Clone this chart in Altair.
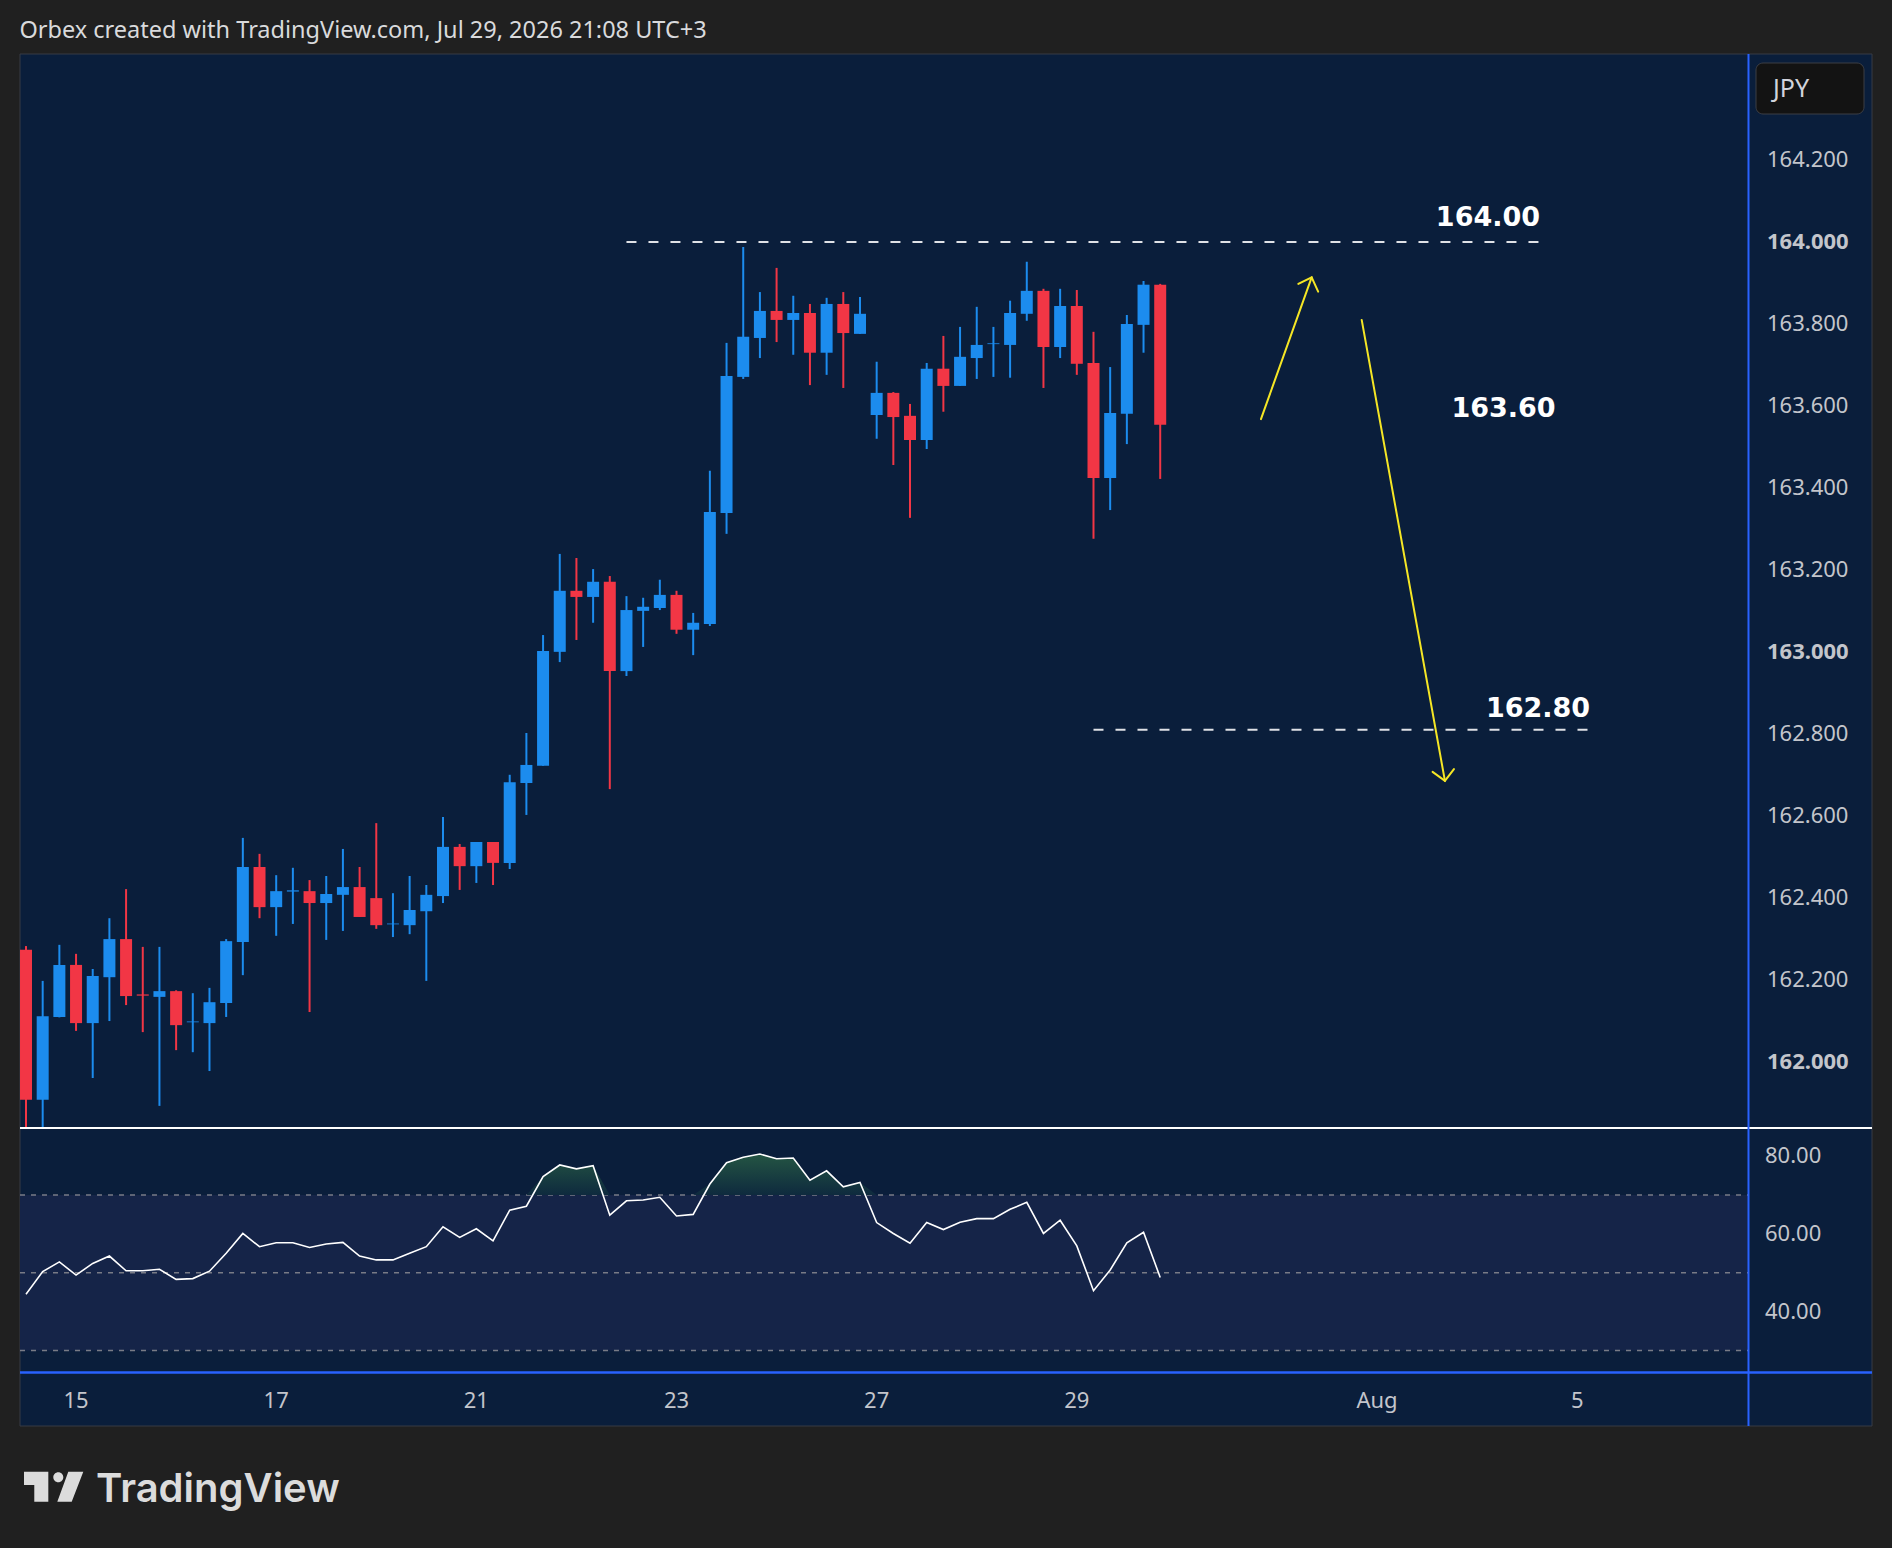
import altair as alt
import pandas as pd

# ---------------- data ----------------
candle_index = list(range(69))
opens = [162.273, 161.907, 162.109, 162.236, 162.094, 162.206, 162.299, 162.164, 162.158, 162.172,
         162.096, 162.094, 162.143, 162.292, 162.475, 162.377, 162.415, 162.416, 162.387, 162.407,
         162.426, 162.399, 162.335, 162.333, 162.367, 162.404, 162.524, 162.477, 162.536, 162.485,
         162.680, 162.722, 163.000, 163.149, 163.134, 163.171, 162.953, 163.100, 163.107, 163.139,
         163.054, 163.068, 163.339, 163.671, 163.766, 163.832, 163.810, 163.827, 163.730, 163.849,
         163.776, 163.578, 163.632, 163.576, 163.517, 163.691, 163.649, 163.717, 163.751, 163.749,
         163.825, 163.881, 163.744, 163.844, 163.705, 163.424, 163.581, 163.798, 163.896]
highs = [162.282, 162.197, 162.285, 162.263, 162.226, 162.350, 162.421, 162.280, 162.280, 162.174,
         162.167, 162.180, 162.299, 162.546, 162.507, 162.455, 162.473, 162.443, 162.453, 162.519,
         162.475, 162.582, 162.411, 162.453, 162.431, 162.597, 162.531, 162.536, 162.536, 162.700,
         162.802, 163.041, 163.239, 163.229, 163.202, 163.185, 163.136, 163.132, 163.176, 163.149,
         163.095, 163.442, 163.754, 163.988, 163.878, 163.937, 163.869, 163.849, 163.864, 163.878,
         163.866, 163.708, 163.634, 163.605, 163.705, 163.771, 163.793, 163.842, 163.793, 163.857,
         163.952, 163.886, 163.886, 163.883, 163.781, 163.695, 163.822, 163.905, 163.898]
lows = [161.840, 161.840, 162.108, 162.075, 161.960, 162.099, 162.138, 162.072, 161.892, 162.028,
        162.023, 161.977, 162.109, 162.211, 162.350, 162.307, 162.336, 162.121, 162.297, 162.319,
        162.353, 162.324, 162.304, 162.311, 162.197, 162.387, 162.419, 162.436, 162.431, 162.470,
        162.602, 162.722, 162.975, 163.029, 163.071, 162.665, 162.941, 163.012, 163.102, 163.044,
        162.992, 163.063, 163.288, 163.666, 163.717, 163.756, 163.725, 163.651, 163.676, 163.644,
        163.776, 163.520, 163.456, 163.327, 163.495, 163.586, 163.649, 163.666, 163.671, 163.669,
        163.808, 163.644, 163.717, 163.676, 163.276, 163.346, 163.507, 163.730, 163.422]
closes = [161.907, 162.111, 162.236, 162.094, 162.209, 162.299, 162.160, 162.161, 162.172, 162.089,
          162.098, 162.145, 162.294, 162.475, 162.377, 162.416, 162.418, 162.387, 162.409, 162.426,
          162.353, 162.333, 162.337, 162.370, 162.407, 162.524, 162.477, 162.536, 162.485, 162.682,
          162.724, 163.002, 163.149, 163.134, 163.171, 162.953, 163.102, 163.110, 163.139, 163.054,
          163.071, 163.341, 163.673, 163.769, 163.832, 163.810, 163.827, 163.730, 163.849, 163.778,
          163.825, 163.632, 163.573, 163.517, 163.691, 163.649, 163.720, 163.749, 163.753, 163.827,
          163.881, 163.744, 163.844, 163.703, 163.424, 163.583, 163.800, 163.896, 163.554]
rsi_values = [44.5, 50.3, 52.8, 49.4, 52.4, 54.3, 50.5, 50.5, 50.9, 48.3,
              48.5, 50.4, 55.0, 60.1, 56.7, 57.7, 57.7, 56.5, 57.4, 57.8,
              54.3, 53.3, 53.3, 55.0, 56.7, 61.8, 59.1, 61.3, 58.2, 66.1,
              67.1, 74.7, 77.7, 76.7, 77.5, 64.8, 68.5, 68.7, 69.4, 64.6,
              65.0, 72.8, 78.3, 79.7, 80.5, 79.3, 79.5, 73.8, 76.2, 72.1,
              73.2, 62.9, 60.1, 57.6, 62.9, 61.1, 63.0, 63.9, 63.9, 66.3,
              68.1, 60.1, 63.5, 56.9, 45.4, 50.7, 57.7, 60.4, 48.8]

price_ticks = [162.0, 162.2, 162.4, 162.6, 162.8, 163.0, 163.2, 163.4, 163.6, 163.8, 164.0, 164.2]
rsi_ticks = [40, 60, 80]
rsi_levels = [30, 50, 70]
rsi_band = [30, 70]
rsi_overbought = 70
date_tick_pos = [3, 15, 27, 39, 51, 63, 81, 93]
date_tick_labels = ["15", "17", "21", "23", "27", "29", "Aug", "5"]

level_values = [164.00, 162.81]
level_start = [36.0, 64.0]
level_end = [90.95, 93.95]

note_texts = ["164.00", "163.60", "162.80"]
note_x = [87.65, 88.58, 90.65]
note_y = [164.058, 163.592, 162.861]

arrow_seg = ["up_shaft", "up_shaft", "up_head", "up_head", "up_head",
             "down_shaft", "down_shaft", "down_head", "down_head", "down_head"]
arrow_ord = [0, 1, 0, 1, 2, 0, 1, 0, 1, 2]
arrow_x = [74.04, 77.08, 76.28, 77.08, 77.47, 80.08, 85.07, 84.33, 85.07, 85.61]
arrow_y = [163.568, 163.914, 163.898, 163.914, 163.879, 163.810, 162.685, 162.707, 162.685, 162.714]

header_text = "Orbex created with TradingView.com, Jul 29, 2026 21:08 UTC+3"
currency_text = "JPY"
brand_text = "TradingView"

# ---------------- styling ----------------
PAGE_BG = "#202020"
NAVY = "#0a1e3b"
BLUE = "#1c8cee"
RED = "#f23645"
AXIS_TXT = "#c3c5cb"
FONT = "Noto Sans"

W, H = 1892, 1548
X_SCALE = alt.Scale(domain=[-0.36, 103.3], range=[20, 1749], nice=False, zero=False, padding=0)
P_SCALE = alt.Scale(domain=[161.838, 164.459], range=[1128, 54], nice=False, zero=False, padding=0)
R_SCALE = alt.Scale(domain=[24.5, 87.2], range=[1372, 1128], nice=False, zero=False, padding=0)

one = pd.DataFrame({"k": [0]})

candles = pd.DataFrame({"i": candle_index, "open": opens, "high": highs, "low": lows, "close": closes})
rsi_df = pd.DataFrame({"i": candle_index, "rsi": rsi_values})
levels_df = pd.DataFrame({"level": level_values, "x0": level_start, "x1": level_end})
notes_df = pd.DataFrame({"label": note_texts, "x": note_x, "y": note_y})
arrows_df = pd.DataFrame({"seg": arrow_seg, "ord": arrow_ord, "x": arrow_x, "y": arrow_y})
rsi_lv_df = pd.DataFrame({"lvl": rsi_levels})
band_df = pd.DataFrame({"lo": [rsi_band[0]], "hi": [rsi_band[1]]})
pticks_df = pd.DataFrame({"v": price_ticks})
rticks_df = pd.DataFrame({"v": rsi_ticks})
dticks_df = pd.DataFrame({"pos": date_tick_pos, "label": date_tick_labels})

color_enc = alt.Color("dir:N", scale=alt.Scale(domain=["up", "down"], range=[BLUE, RED]), legend=None)

# ---------------- background frame ----------------
frame = alt.Chart(one).mark_rect(fill=NAVY, stroke="#363a45", strokeWidth=1).encode(
    x=alt.value(20), x2=alt.value(1872), y=alt.value(54), y2=alt.value(1426))

# ---------------- RSI panel ----------------
band = alt.Chart(band_df).mark_rect(color="#152448").encode(
    x=alt.value(20), x2=alt.value(1749),
    y=alt.Y("lo:Q", scale=R_SCALE, axis=None), y2="hi:Q")
rsi_rules = alt.Chart(rsi_lv_df).mark_rule(color="#787b86", strokeWidth=1.5, strokeDash=[5, 6]).encode(
    x=alt.value(20), x2=alt.value(1749), y=alt.Y("lvl:Q", scale=R_SCALE, axis=None))
ob_fill = alt.Chart(rsi_df).transform_calculate(
    ob="max(datum.rsi, %d)" % rsi_overbought, base="%d" % rsi_overbought
).mark_area(
    color=alt.Gradient(gradient="linear",
                       stops=[alt.GradientStop(color="#245543", offset=0),
                              alt.GradientStop(color="#0e2a3e", offset=1)],
                       x1=0, x2=0, y1=0, y2=1)
).encode(x=alt.X("i:Q", scale=X_SCALE, axis=None),
         y=alt.Y("ob:Q", scale=R_SCALE, axis=None), y2="base:Q")
rsi_line = alt.Chart(rsi_df).mark_line(color="#ffffff", strokeWidth=1.6).encode(
    x=alt.X("i:Q", scale=X_SCALE, axis=None),
    y=alt.Y("rsi:Q", scale=R_SCALE, axis=None))
rsi_labels = alt.Chart(rticks_df).transform_calculate(lbl="format(datum.v, '.2f')").mark_text(
    font=FONT, fontSize=22, color=AXIS_TXT, align="left", baseline="middle").encode(
    x=alt.value(1765), y=alt.Y("v:Q", scale=R_SCALE, axis=None), text="lbl:N")
rsi_layer = alt.layer(band, rsi_rules, ob_fill, rsi_line, rsi_labels)

# ---------------- price panel ----------------
base_c = alt.Chart(candles).transform_calculate(
    dir="datum.close >= datum.open ? 'up' : 'down'")
wicks = base_c.mark_rule(strokeWidth=2).encode(
    x=alt.X("i:Q", scale=X_SCALE, axis=None),
    y=alt.Y("low:Q", scale=P_SCALE, axis=None), y2="high:Q", color=color_enc)
bodies = base_c.mark_bar(width=12, orient="vertical").encode(
    x=alt.X("i:Q", scale=X_SCALE, axis=None),
    y=alt.Y("open:Q", scale=P_SCALE, axis=None), y2="close:Q", color=color_enc)
lvl_lines = alt.Chart(levels_df).mark_rule(color="#dfe1e6", strokeWidth=2, strokeDash=[10, 12]).encode(
    x=alt.X("x0:Q", scale=X_SCALE, axis=None), x2="x1:Q",
    y=alt.Y("level:Q", scale=P_SCALE, axis=None))
arrows = alt.Chart(arrows_df).mark_line(color="#f5e625", strokeWidth=2, strokeCap="round").encode(
    x=alt.X("x:Q", scale=X_SCALE, axis=None),
    y=alt.Y("y:Q", scale=P_SCALE, axis=None), detail="seg:N", order="ord:Q")
notes = alt.Chart(notes_df).mark_text(font="DejaVu Sans", fontSize=27, fontWeight="bold", color="#ffffff",
                                      align="center", baseline="middle").encode(
    x=alt.X("x:Q", scale=X_SCALE, axis=None),
    y=alt.Y("y:Q", scale=P_SCALE, axis=None), text="label:N")
price_base = alt.Chart(pticks_df).transform_calculate(
    lbl="format(datum.v, '.3f')", whole="abs(datum.v - round(datum.v)) < 0.0001 ? 1 : 0")
price_labels_n = price_base.transform_filter("datum.whole == 0").mark_text(
    font=FONT, fontSize=22, color=AXIS_TXT, align="left", baseline="middle").encode(
    x=alt.value(1767), y=alt.Y("v:Q", scale=P_SCALE, axis=None), text="lbl:N")
price_labels_b = price_base.transform_filter("datum.whole == 1").mark_text(
    font=FONT, fontSize=22, fontWeight="bold", color=AXIS_TXT, align="left", baseline="middle").encode(
    x=alt.value(1767), y=alt.Y("v:Q", scale=P_SCALE, axis=None), text="lbl:N")
date_labels = alt.Chart(dticks_df).mark_text(
    font=FONT, fontSize=22, color=AXIS_TXT, align="center", baseline="middle").encode(
    x=alt.X("pos:Q", scale=X_SCALE, axis=None), y=alt.value(1400.5), text="label:N")
price_layer = alt.layer(wicks, bodies, lvl_lines, arrows, notes, price_labels_n, price_labels_b, date_labels)

# ---------------- separators & chrome ----------------
sep_white = alt.Chart(one).mark_rule(color="#ffffff", strokeWidth=2).encode(
    x=alt.value(20), x2=alt.value(1872), y=alt.value(1128))
sep_blue_h = alt.Chart(one).mark_rule(color="#2962ff", strokeWidth=2.5).encode(
    x=alt.value(20), x2=alt.value(1872), y=alt.value(1372.5))
sep_blue_v = alt.Chart(one).mark_rule(color="#2962ff", strokeWidth=2).encode(
    x=alt.value(1748.5), y=alt.value(54), y2=alt.value(1426))
jpy_box = alt.Chart(one).mark_rect(fill="#131313", stroke="#3d3f45", strokeWidth=1, cornerRadius=7).encode(
    x=alt.value(1756), x2=alt.value(1864), y=alt.value(63), y2=alt.value(114))
jpy_txt = alt.Chart(pd.DataFrame({"t": [currency_text]})).mark_text(
    font=FONT, fontSize=25, color="#d1d4dc", align="left", baseline="middle").encode(
    x=alt.value(1773), y=alt.value(88.5), text="t:N")
header = alt.Chart(pd.DataFrame({"t": [header_text]})).mark_text(
    font=FONT, fontSize=23.5, color="#d9dadc", align="left", baseline="alphabetic").encode(
    x=alt.value(19.5), y=alt.value(38.3), text="t:N")
brand = alt.Chart(pd.DataFrame({"t": [brand_text]})).mark_text(
    font="Inter", fontSize=40, fontWeight=600, color="#dcdcdc", align="left", baseline="alphabetic").encode(
    x=alt.value(96), y=alt.value(1501.7), text="t:N")
logo_path = ("M-1,-0.506L-0.18,-0.506L-0.18,0.506L-0.653,0.506L-0.653,-0.057L-1,-0.057Z"
             "M-0.012,-0.317A0.169,0.169,0,1,0,0.326,-0.317A0.169,0.169,0,1,0,-0.012,-0.317Z"
             "M0.494,-0.506L1,-0.506L0.609,0.506L0.123,0.506Z")
logo = alt.Chart(one).mark_point(shape=logo_path, size=3516, filled=True, fill="#dcdcdc",
                                 strokeWidth=0, opacity=1).encode(
    x=alt.value(53.65), y=alt.value(1486.7))

chart = alt.layer(
    frame, rsi_layer, price_layer, sep_white, sep_blue_h, sep_blue_v,
    jpy_box, jpy_txt, header, brand, logo
).resolve_scale(y="independent").properties(
    width=W, height=H,
    autosize=alt.AutoSizeParams(type="none"),
    padding={"left": 0, "right": 0, "top": 0, "bottom": 0},
    background=PAGE_BG,
).configure_view(stroke=None)

chart.save("out.html", embed_options={"renderer": "svg", "actions": False})
